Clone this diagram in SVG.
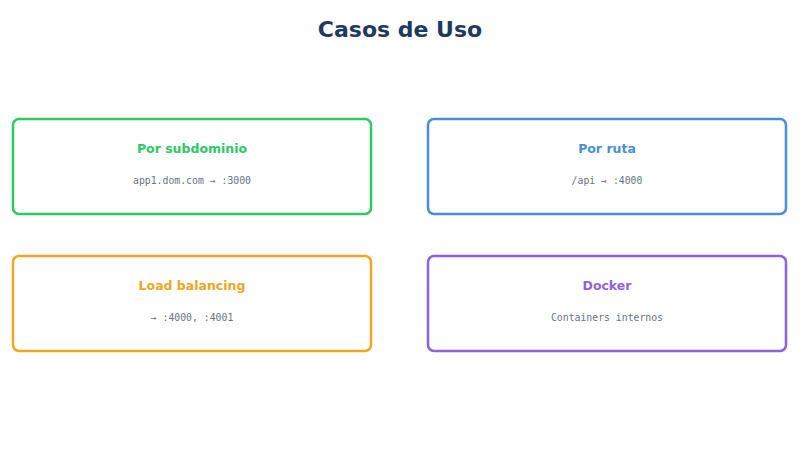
<svg xmlns="http://www.w3.org/2000/svg" width="800" height="450" viewBox="0 0 800 450">
<style>
.title{font-family:"DejaVu Sans",sans-serif;font-weight:bold;font-size:22px;fill:#1e3a5f;text-anchor:middle}
.box{fill:#fff;stroke-width:2.5}
.h{font-family:"DejaVu Sans",sans-serif;font-weight:bold;font-size:12.5px;text-anchor:middle}
.s{font-family:"DejaVu Sans Mono",monospace;font-size:9.8px;fill:#6b7280;text-anchor:middle}
</style>
<rect width="800" height="450" fill="#fff"/>
<text class="title" x="400" y="37">Casos de Uso</text>
<g id="subdominio">
<rect class="box" x="13" y="119" width="358" height="95" rx="6" stroke="#2ec866"/>
<text class="h" x="192" y="153" fill="#2ec866">Por subdominio</text>
<text class="s" x="192" y="184">app1.dom.com → :3000</text>
</g>
<g id="ruta">
<rect class="box" x="428" y="119" width="358" height="95" rx="6" stroke="#4a8ddc"/>
<text class="h" x="607" y="153" fill="#4a8ddc">Por ruta</text>
<text class="s" x="607" y="184">/api → :4000</text>
</g>
<g id="load">
<rect class="box" x="13" y="256" width="358" height="95" rx="6" stroke="#f0a623"/>
<text class="h" x="192" y="290" fill="#f0a623">Load balancing</text>
<text class="s" x="192" y="321">→ :4000, :4001</text>
</g>
<g id="docker">
<rect class="box" x="428" y="256" width="358" height="95" rx="6" stroke="#8e62dc"/>
<text class="h" x="607" y="290" fill="#8e62dc">Docker</text>
<text class="s" x="607" y="321">Containers internos</text>
</g>
<g id="connectors"></g>
</svg>
